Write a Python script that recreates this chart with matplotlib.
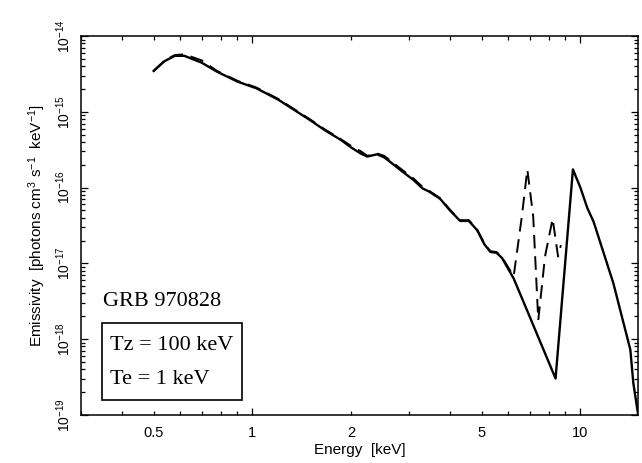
import numpy as np
import matplotlib
matplotlib.use("Agg")
import matplotlib.pyplot as plt
from matplotlib.ticker import LogLocator, FixedLocator, FuncFormatter, NullFormatter, LogFormatterMathtext

plt.rcParams['font.family'] = ['Liberation Sans', 'DejaVu Sans']
plt.rcParams['mathtext.default'] = 'regular'

# solid curve: energy [keV] and log10 emissivity
e_solid = [0.50, 0.54, 0.58, 0.62, 0.70, 0.78, 0.90, 1.03, 1.20, 1.37, 1.50, 1.66,
           1.86, 2.00, 2.14, 2.24, 2.40, 2.52, 2.63, 2.85, 3.10, 3.30, 3.45, 3.74,
           4.00, 4.30, 4.57, 4.84, 5.10, 5.32, 5.55, 5.77, 6.26, 7.00, 8.40, 9.49,
           10.0, 10.5, 10.97, 12.6, 14.2, 14.5, 15.0]
log_solid = [-14.46, -14.33, -14.26, -14.26, -14.35, -14.47, -14.60, -14.69, -14.84, -15.00, -15.11, -15.24,
             -15.37, -15.47, -15.55, -15.59, -15.56, -15.60, -15.66, -15.78, -15.90, -16.01, -16.05, -16.15,
             -16.30, -16.44, -16.44, -16.56, -16.75, -16.85, -16.86, -16.93, -17.20, -17.70, -18.52, -15.76,
             -16.00, -16.27, -16.45, -17.26, -18.14, -18.58, -19.00]

# dashed curve
e_dash = [0.50, 0.54, 0.58, 0.62, 0.70, 0.78, 0.90, 1.03, 1.20, 1.37, 1.50, 1.66,
          1.86, 2.00, 2.14, 2.24, 2.40, 2.52, 2.63, 2.85, 3.10, 3.30, 3.45, 3.74,
          4.00, 4.30, 4.57, 4.84, 5.10, 5.32, 5.55, 5.77, 6.26, 6.63, 6.89, 7.18,
          7.44, 7.80, 8.23, 8.55, 8.72]
log_dash = [-14.46, -14.32, -14.25, -14.24, -14.32, -14.46, -14.59, -14.68, -14.83, -14.99, -15.10, -15.23,
            -15.36, -15.45, -15.52, -15.58, -15.55, -15.58, -15.64, -15.76, -15.88, -15.99, -16.04, -16.14,
            -16.29, -16.43, -16.43, -16.55, -16.74, -16.84, -16.85, -16.92, -17.17, -16.38, -15.76, -16.38,
            -17.75, -16.91, -16.41, -16.91, -16.76]

x_labels = [0.5, 1, 2, 5, 10]
y_ticks = [1e-19, 1e-18, 1e-17, 1e-16, 1e-15, 1e-14]

fig = plt.figure(figsize=(6.42, 4.63), dpi=100)
ax = fig.add_axes([0.126, 0.104, 0.868, 0.818])

ax.plot(e_solid, 10.0 ** np.array(log_solid), color='black', lw=1.7, solid_joinstyle='round')
ax.plot(e_dash, 10.0 ** np.array(log_dash), color='black', lw=1.4, dashes=(7, 4))

ax.set_xscale('log')
ax.set_yscale('log')
ax.set_xlim(0.3, 15)
ax.set_ylim(1e-19, 1e-14)

ax.xaxis.set_major_locator(FixedLocator([1, 10]))
ax.xaxis.set_minor_locator(LogLocator(base=10, subs=np.arange(2, 10)))
fmt = FuncFormatter(lambda v, p: ('%g' % v) if any(abs(v - t) < 1e-6 for t in x_labels) else '')
ax.xaxis.set_major_formatter(fmt)
ax.xaxis.set_minor_formatter(fmt)

ax.yaxis.set_major_locator(FixedLocator(y_ticks))
ax.yaxis.set_major_formatter(LogFormatterMathtext())
ax.yaxis.set_minor_locator(LogLocator(base=10, subs=np.arange(2, 10), numticks=20))
ax.yaxis.set_minor_formatter(NullFormatter())

ax.tick_params(which='both', direction='in', top=True, right=True, width=0.9, labelsize=10)
ax.tick_params(axis='x', which='both', labelsize=10.5)
ax.tick_params(which='major', length=5)
ax.tick_params(which='minor', length=3)
ax.tick_params(axis='x', which='both', pad=8)
ax.tick_params(axis='y', which='both', pad=6)
for lab in ax.get_yticklabels():
    lab.set_rotation(90)
    lab.set_va('center')

for s in ax.spines.values():
    s.set_linewidth(1.1)

ax.set_xlabel('Energy  [keV]', fontsize=11, labelpad=2)
ax.set_ylabel('Emissivity  [photons cm$^3$ s$^{-1}$  keV$^{-1}$]', fontsize=11, labelpad=4)

fig.text(103 / 642, 1 - 302 / 463, 'GRB 970828', family='Liberation Serif', fontsize=16, va='center')
fig.text(110 / 642, 1 - 345 / 463, 'Tz = 100 keV', family='Liberation Serif', fontsize=16, va='center')
fig.text(110 / 642, 1 - 380 / 463, 'Te = 1 keV', family='Liberation Serif', fontsize=16, va='center')

box = plt.Rectangle((101.7 / 642, 1 - 400 / 463), 140 / 642, 77.3 / 463, transform=fig.transFigure,
                    fill=False, lw=1.2, color='black')
fig.add_artist(box)

fig.savefig('out.png', dpi=100)
